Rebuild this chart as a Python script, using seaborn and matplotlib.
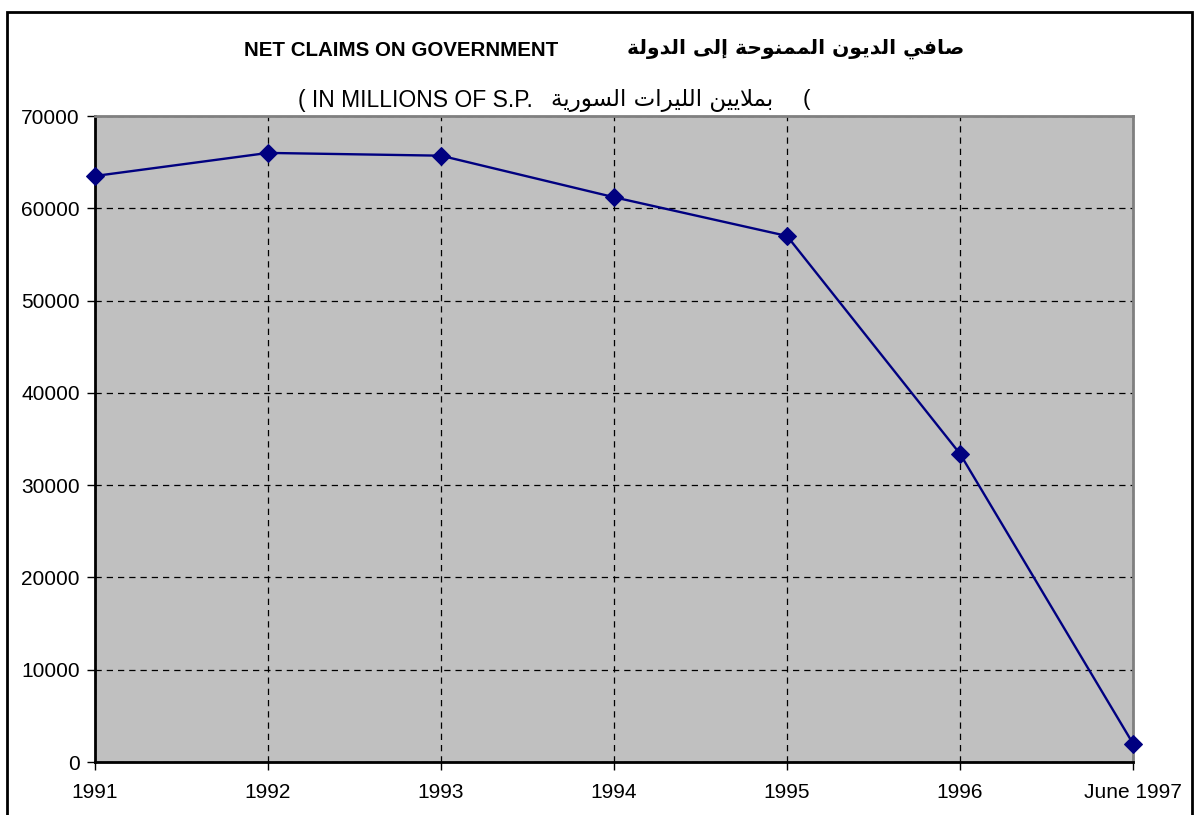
import matplotlib
matplotlib.use('Agg')
import matplotlib.pyplot as plt
import seaborn as sns
import pandas as pd
from matplotlib.patches import Rectangle

# values (millions of S.P.)
periods = ['1991', '1992', '1993', '1994', '1995', '1996', 'June 1997']
claims = [63500, 66000, 65700, 61200, 57000, 33400, 2000]
y_ticks = [0, 10000, 20000, 30000, 40000, 50000, 60000, 70000]

title_en = 'NET CLAIMS ON GOVERNMENT'
title_ar = 'صافي الديون الممنوحة إلى الدولة'
unit_en = '( IN MILLIONS OF S.P.'
unit_ar = 'بملايين الليرات السورية'

# Arabic presentation forms: isolated, final, initial, medial
FORMS = {
    'ا': ('\uFE8D', '\uFE8E', None, None),
    'إ': ('\uFE87', '\uFE88', None, None),
    'ب': ('\uFE8F', '\uFE90', '\uFE91', '\uFE92'),
    'ة': ('\uFE93', '\uFE94', None, None),
    'ت': ('\uFE95', '\uFE96', '\uFE97', '\uFE98'),
    'ح': ('\uFEA1', '\uFEA2', '\uFEA3', '\uFEA4'),
    'د': ('\uFEA9', '\uFEAA', None, None),
    'ر': ('\uFEAD', '\uFEAE', None, None),
    'س': ('\uFEB1', '\uFEB2', '\uFEB3', '\uFEB4'),
    'ص': ('\uFEB9', '\uFEBA', '\uFEBB', '\uFEBC'),
    'ف': ('\uFED1', '\uFED2', '\uFED3', '\uFED4'),
    'ل': ('\uFEDD', '\uFEDE', '\uFEDF', '\uFEE0'),
    'م': ('\uFEE1', '\uFEE2', '\uFEE3', '\uFEE4'),
    'ن': ('\uFEE5', '\uFEE6', '\uFEE7', '\uFEE8'),
    'و': ('\uFEED', '\uFEEE', None, None),
    'ى': ('\uFEEF', '\uFEF0', None, None),
    'ي': ('\uFEF1', '\uFEF2', '\uFEF3', '\uFEF4'),
    'لا': ('\uFEFB', '\uFEFC', None, None),
}


def shape_arabic(text):
    """Join letters into contextual forms and return visual (LTR) order"""
    out = []
    for word in text.split(' '):
        letters = []
        i = 0
        while i < len(word):
            if word[i:i + 2] == 'لا':
                letters.append('لا')
                i += 2
            else:
                letters.append(word[i])
                i += 1
        shaped = []
        for k, ch in enumerate(letters):
            f = FORMS.get(ch)
            if f is None:
                shaped.append(ch)
                continue
            prev_joins = k > 0 and FORMS.get(letters[k - 1], (0, 0, None))[2] is not None
            next_joins = f[2] is not None and k < len(letters) - 1 and letters[k + 1] in FORMS
            if prev_joins and next_joins:
                shaped.append(f[3])
            elif prev_joins:
                shaped.append(f[1])
            elif next_joins:
                shaped.append(f[2])
            else:
                shaped.append(f[0])
        out.append(''.join(shaped))
    return ' '.join(out)[::-1]


df = pd.DataFrame({'pos': range(len(periods)), 'claims': claims})

W, H = 1196, 815
fig = plt.figure(figsize=(W / 100, H / 100), dpi=100)
ax = fig.add_axes([95 / W, 1 - 762 / H, (1133 - 95) / W, (762 - 116) / H])
ax.set_facecolor('#c0c0c0')

sns.lineplot(data=df, x='pos', y='claims', ax=ax, color='#000080', linewidth=1.7,
             marker='D', markersize=9, markeredgecolor='#000080', zorder=3,
             clip_on=False)

ax.set_xlim(0, len(periods) - 1)
ax.set_ylim(0, 70000)
ax.set_xticks(range(len(periods)))
ax.set_xticklabels(periods)
ax.set_yticks(y_ticks)
ax.set_xlabel('')
ax.set_ylabel('')
ax.grid(True, color='black', linestyle=(0, (5, 4)), linewidth=0.9)
ax.tick_params(axis='both', labelsize=15, length=6, width=1, direction='out',
               colors='black', pad=5)
ax.tick_params(axis='x', pad=9)
for lbl in ax.get_xticklabels() + ax.get_yticklabels():
    lbl.set_family(['Liberation Sans', 'DejaVu Sans'])
ax.spines['left'].set_color('black')
ax.spines['bottom'].set_color('black')
ax.spines['top'].set_color('#808080')
ax.spines['right'].set_color('#808080')
for s in ax.spines.values():
    s.set_linewidth(2)

fam = ['Liberation Sans', 'DejaVu Sans']
fig.text(401 / W, 1 - 50 / H, title_en, ha='center', va='center',
         fontsize=14.8, fontweight='bold', family=fam)
fig.text(796 / W, 1 - 49 / H, shape_arabic(title_ar), ha='center', va='center',
         fontsize=14.6, fontweight='bold', family=['DejaVu Sans'])
fig.text(298 / W, 1 - 100 / H, unit_en, ha='left', va='center', fontsize=16.5, family=fam)
fig.text(662 / W, 1 - 100 / H, shape_arabic(unit_ar), ha='center', va='center',
         fontsize=16.5, family=['DejaVu Sans'])
fig.text(803 / W, 1 - 100 / H, '(', ha='left', va='center', fontsize=16, family=fam)

# outer chart frame
fig.patches.append(Rectangle((7 / W, -0.02), (1192 - 7) / W, 1.02 - 12 / H,
                             transform=fig.transFigure, fill=False,
                             edgecolor='black', linewidth=2))

fig.savefig('out.png', dpi=100)
